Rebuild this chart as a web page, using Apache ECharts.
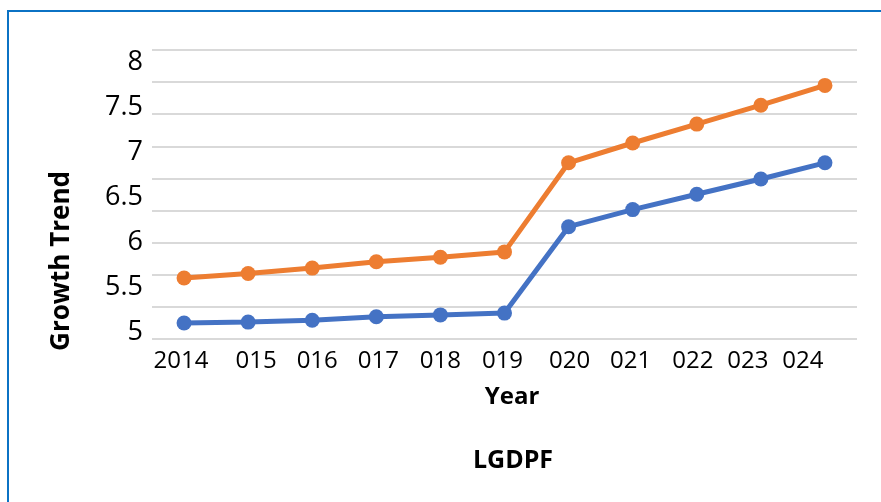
<!DOCTYPE html>
<html>
<head>
<meta charset="utf-8">
<script src="https://cdn.jsdelivr.net/npm/echarts@6/dist/echarts.min.js"></script>
<style>
  html, body { margin: 0; padding: 0; background: #fff; }
  #chart { width: 881px; height: 502px; }
</style>
</head>
<body>
<div id="chart"></div>
<script>
// Category labels along the x axis
const years = ['2014', '015', '016', '017', '018', '019', '020', '021', '022', '023', '024'];

// Two growth series
const lowerSeries = [5.10, 5.11, 5.13, 5.17, 5.19, 5.21, 6.17, 6.36, 6.53, 6.70, 6.88];
const upperSeries = [5.60, 5.65, 5.71, 5.78, 5.83, 5.89, 6.88, 7.10, 7.31, 7.52, 7.74];

// Values printed on the vertical axis
const yTickValues = [5, 5.5, 6, 6.5, 7, 7.5, 8];

// Small horizontal nudges (px) for individual x labels
const labelNudge = [-3, 8, 5, 2, 0, -2, 1, -2, -4, -13, -22];

const FONT = '"Open Sans", "Noto Sans", sans-serif';

const rich = {};
labelNudge.forEach((d, i) => {
  rich['s' + i] = {
    fontFamily: FONT,
    fontSize: 24,
    color: '#000',
    padding: d >= 0 ? [0, 0, 0, 2 * d] : [0, -2 * d, 0, 0]
  };
});

const chart = echarts.init(document.getElementById('chart'), null, { renderer: 'canvas' });

chart.setOption({
  animation: false,
  backgroundColor: '#fff',
  grid: { left: 152, right: 24, top: 50, bottom: 163, containLabel: false },
  xAxis: {
    type: 'category',
    data: years,
    boundaryGap: true,
    axisLine: { show: false },
    axisTick: { show: false },
    axisLabel: {
      margin: 10,
      interval: 0,
      formatter: (value, index) => '{s' + index + '|' + value + '}',
      rich: rich
    }
  },
  yAxis: [
    {
      type: 'value',
      min: 4.92222,
      max: 8.13333,
      axisLine: { show: false },
      axisTick: { show: false },
      splitLine: { show: false },
      axisLabel: {
        customValues: yTickValues,
        margin: 9,
        fontFamily: FONT,
        fontSize: 27,
        color: '#000'
      }
    },
    {
      type: 'value',
      min: 0,
      max: 9,
      interval: 1,
      position: 'left',
      axisLine: { show: false },
      axisTick: { show: false },
      axisLabel: { show: false },
      splitLine: { show: true, lineStyle: { color: '#d9d9d9', width: 2 } }
    }
  ],
  series: [
    {
      name: 'Lower',
      type: 'line',
      yAxisIndex: 0,
      data: lowerSeries,
      symbol: 'circle',
      symbolSize: 15,
      lineStyle: { color: '#4472C4', width: 5 },
      itemStyle: { color: '#4472C4' },
      z: 3
    },
    {
      name: 'Upper',
      type: 'line',
      yAxisIndex: 0,
      data: upperSeries,
      symbol: 'circle',
      symbolSize: 15,
      lineStyle: { color: '#ED7D31', width: 5 },
      itemStyle: { color: '#ED7D31' },
      z: 3
    }
  ],
  graphic: [
    {
      type: 'rect',
      shape: { x: 8, y: 11, width: 900, height: 520 },
      style: { fill: 'none', stroke: '#0B72C4', lineWidth: 2 },
      silent: true
    },
    {
      type: 'text',
      x: 62,
      y: 261,
      rotation: Math.PI / 2,
      style: {
        text: 'Growth Trend',
        fontFamily: FONT,
        fontWeight: 'bold',
        fontSize: 26,
        fill: '#000',
        textAlign: 'center',
        textVerticalAlign: 'middle'
      }
    },
    {
      type: 'text',
      x: 512,
      y: 397,
      style: {
        text: 'Year',
        fontFamily: FONT,
        fontWeight: 'bold',
        fontSize: 24,
        fill: '#000',
        textAlign: 'center',
        textVerticalAlign: 'middle'
      }
    },
    {
      type: 'text',
      x: 513,
      y: 461,
      style: {
        text: 'LGDPF',
        fontFamily: FONT,
        fontWeight: 'bold',
        fontSize: 25,
        fill: '#000',
        textAlign: 'center',
        textVerticalAlign: 'middle'
      }
    }
  ]
});
</script>
</body>
</html>
